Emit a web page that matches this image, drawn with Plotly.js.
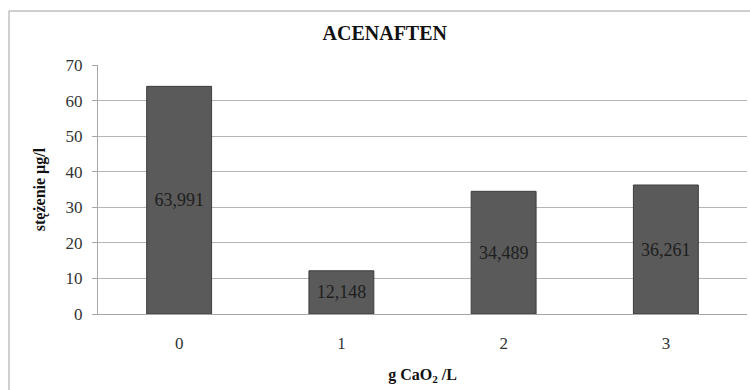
<!DOCTYPE html>
<html>
<head>
<meta charset="utf-8">
<script src="https://cdn.plot.ly/plotly-3.0.1.min.js"></script>
<style>html,body{margin:0;padding:0;background:#fff;}#chart{width:750px;height:390px;}</style>
</head>
<body>
<div id="chart"></div>
<script>
const categories = ['0', '1', '2', '3'];
const values = [63.991, 12.148, 34.489, 36.261];
const yTicks = [0, 10, 20, 30, 40, 50, 60, 70];

const serif = 'Liberation Serif, Times New Roman, serif';

const trace = {
  type: 'bar',
  x: categories,
  y: values,
  marker: { color: '#5a5a5a', line: { color: '#3d3d3d', width: 1 } },
  texttemplate: '%{y:.3f}',
  textposition: 'inside',
  insidetextanchor: 'middle',
  textangle: 0,
  insidetextfont: { family: serif, size: 18, color: '#1e1e1e' },
  hoverinfo: 'skip'
};

const layout = {
  width: 750,
  height: 390,
  separators: ', ',
  paper_bgcolor: '#ffffff',
  plot_bgcolor: '#ffffff',
  margin: { l: 98, r: 3, t: 65, b: 76, pad: 0 },
  bargap: 0.6,
  showlegend: false,
  font: { family: serif, color: '#333333' },
  title: {
    text: '<b>ACENAFTEN</b>',
    font: { family: serif, size: 20, color: '#111111' },
    xref: 'container', x: 0.513, xanchor: 'center',
    yref: 'container', y: 0.915, yanchor: 'middle'
  },
  xaxis: {
    type: 'category',
    showgrid: false,
    showline: true,
    linecolor: '#a6a6a6',
    ticks: '',
    ticklabelstandoff: 14,
    tickfont: { family: serif, size: 17, color: '#333333' },
    title: { text: '<b>g CaO<sub>2</sub> /L</b>', font: { family: serif, size: 16, color: '#111111' }, standoff: 16 }
  },
  yaxis: {
    range: [0, 70],
    tickvals: yTicks,
    showgrid: true,
    gridcolor: '#b5b5b5',
    gridwidth: 1,
    zeroline: false,
    showline: true,
    linecolor: '#a6a6a6',
    ticks: 'outside',
    ticklen: 5,
    tickcolor: '#a6a6a6',
    ticklabelstandoff: 6,
    tickfont: { family: serif, size: 17, color: '#333333' },
    title: { text: '<b>stężenie µg/l</b>', font: { family: serif, size: 16, color: '#111111' }, standoff: 15 }
  },
  shapes: [{
    type: 'rect', xref: 'paper', yref: 'paper',
    x0: (9 - 98) / 649, x1: 1.2, y0: -0.4, y1: (314 - 11) / 249,
    line: { color: '#a0a0a0', width: 1 }, fillcolor: 'rgba(0,0,0,0)', layer: 'below'
  }]
};

Plotly.newPlot('chart', [trace], layout, { staticPlot: true, displayModeBar: false });
</script>
</body>
</html>
